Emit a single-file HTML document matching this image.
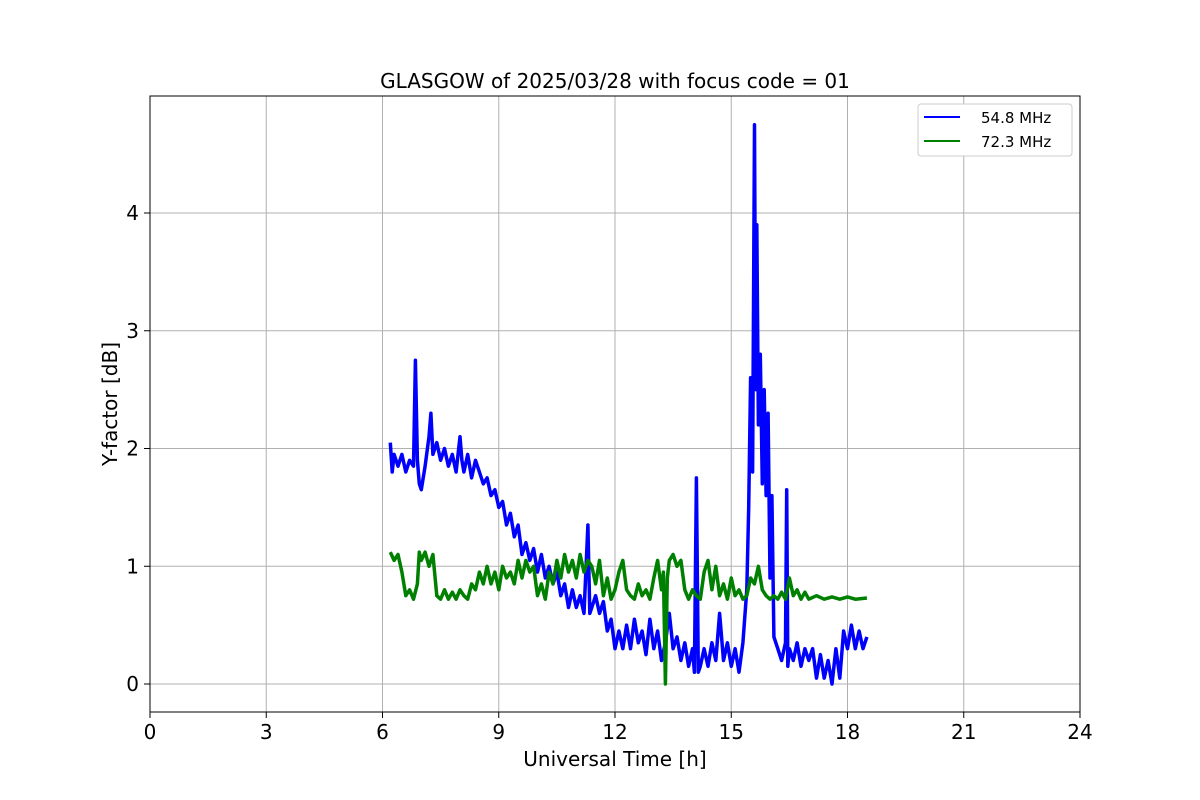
<!DOCTYPE html>
<html><head><meta charset="utf-8"><style>
body{margin:0;background:#fff}
svg{display:block;font-family:"DejaVu Sans","Liberation Sans",sans-serif}
</style></head><body>
<svg id="chart" width="1200" height="800" viewBox="0 0 1200 800" xmlns="http://www.w3.org/2000/svg">
<rect width="1200" height="800" fill="#fff"/>
<g id="grid"></g>
<g id="series"></g>
<rect x="150" y="96" width="930" height="616" fill="none" stroke="#000" stroke-width="1"/>
<g id="ticks"></g>
<text x="615" y="88" text-anchor="middle" font-size="20">GLASGOW of 2025/03/28 with focus code = 01</text>
<text x="615" y="766" text-anchor="middle" font-size="20">Universal Time [h]</text>
<text transform="translate(117,404) rotate(-90)" text-anchor="middle" font-size="20">Y-factor [dB]</text>
<g>
<rect x="918" y="104" width="154" height="52" rx="3" fill="#fff" stroke="#ccc"/>
<line x1="924" y1="117" x2="960" y2="117" stroke="#0000ff" stroke-width="2"/>
<text x="981" y="123" font-size="15">54.8 MHz</text>
<line x1="924" y1="141" x2="960" y2="141" stroke="#008000" stroke-width="2"/>
<text x="981" y="147" font-size="15">72.3 MHz</text>
</g>
</svg>
<script>
const xTicks=[0,3,6,9,12,15,18,21,24];
const yTicks=[0,1,2,3,4];
const blueHours=[6.2,6.25,6.3,6.4,6.5,6.6,6.7,6.8,6.85,6.9,6.95,7.0,7.1,7.2,7.25,7.3,7.4,7.5,7.6,7.7,7.8,7.9,8.0,8.05,8.1,8.2,8.3,8.4,8.5,8.6,8.7,8.8,8.9,9.0,9.1,9.2,9.3,9.4,9.5,9.6,9.7,9.8,9.9,10.0,10.1,10.2,10.3,10.4,10.5,10.6,10.7,10.8,10.9,11.0,11.1,11.2,11.3,11.35,11.4,11.5,11.6,11.7,11.8,11.9,12.0,12.1,12.2,12.3,12.4,12.5,12.6,12.7,12.8,12.9,13.0,13.1,13.2,13.3,13.4,13.5,13.6,13.7,13.8,13.9,14.0,14.05,14.1,14.15,14.2,14.3,14.4,14.5,14.6,14.7,14.8,14.9,15.0,15.1,15.2,15.3,15.4,15.45,15.5,15.55,15.6,15.63,15.66,15.7,15.75,15.8,15.85,15.9,15.95,16.0,16.05,16.1,16.2,16.3,16.4,16.43,16.46,16.5,16.6,16.7,16.8,16.9,17.0,17.1,17.2,17.3,17.4,17.5,17.6,17.7,17.8,17.9,18.0,18.1,18.2,18.3,18.4,18.5];
const blueValues=[2.05,1.8,1.95,1.85,1.95,1.8,1.9,1.85,2.75,1.9,1.7,1.65,1.85,2.1,2.3,1.95,2.05,1.9,2.0,1.85,1.95,1.8,2.1,1.9,1.8,1.95,1.75,1.9,1.8,1.7,1.75,1.6,1.65,1.5,1.55,1.35,1.45,1.25,1.35,1.1,1.2,1.05,1.15,0.95,1.1,0.9,1.0,0.85,0.95,0.75,0.85,0.65,0.8,0.65,0.75,0.6,1.35,0.6,0.65,0.75,0.6,0.7,0.45,0.55,0.3,0.45,0.3,0.5,0.3,0.55,0.35,0.45,0.25,0.55,0.3,0.45,0.2,0.35,0.6,0.3,0.4,0.2,0.35,0.15,0.3,0.1,1.75,0.1,0.15,0.3,0.15,0.35,0.2,0.6,0.2,0.35,0.15,0.3,0.1,0.35,0.8,1.5,2.6,1.8,4.75,2.5,3.9,2.2,2.8,1.7,2.5,1.6,2.3,0.9,1.6,0.4,0.3,0.2,0.35,1.65,0.15,0.3,0.2,0.35,0.15,0.3,0.2,0.3,0.05,0.25,0.05,0.2,0.0,0.3,0.05,0.45,0.3,0.5,0.3,0.45,0.3,0.4];
const greenHours=[6.2,6.3,6.4,6.5,6.6,6.7,6.8,6.9,6.95,7.0,7.1,7.2,7.3,7.4,7.5,7.6,7.7,7.8,7.9,8.0,8.1,8.2,8.3,8.4,8.5,8.6,8.7,8.8,8.9,9.0,9.1,9.2,9.3,9.4,9.5,9.6,9.7,9.8,9.9,10.0,10.1,10.2,10.3,10.4,10.5,10.6,10.7,10.8,10.9,11.0,11.1,11.2,11.3,11.4,11.5,11.6,11.7,11.8,11.9,12.0,12.1,12.2,12.3,12.4,12.5,12.6,12.7,12.8,12.9,13.0,13.1,13.2,13.25,13.3,13.35,13.4,13.5,13.6,13.7,13.8,13.9,14.0,14.1,14.2,14.3,14.4,14.5,14.6,14.7,14.8,14.9,15.0,15.1,15.2,15.3,15.4,15.5,15.6,15.7,15.8,15.9,16.0,16.1,16.2,16.3,16.4,16.5,16.6,16.7,16.8,16.9,17.0,17.2,17.4,17.6,17.8,18.0,18.2,18.5];
const greenValues=[1.12,1.05,1.1,0.95,0.75,0.8,0.72,0.85,1.12,1.05,1.12,1.0,1.1,0.75,0.72,0.8,0.72,0.78,0.72,0.8,0.75,0.72,0.85,0.8,0.95,0.85,1.0,0.85,0.95,0.8,1.0,0.9,0.95,0.85,1.05,0.9,1.05,0.95,1.0,0.75,0.85,0.72,0.95,0.85,1.05,0.9,1.1,0.95,1.05,0.9,1.1,0.95,1.05,1.0,0.85,1.05,0.75,0.9,0.72,0.8,0.95,1.05,0.8,0.75,0.72,0.85,0.75,0.8,0.72,0.9,1.05,0.8,0.95,0.0,0.9,1.05,1.1,1.0,1.05,0.8,0.72,0.8,0.75,0.72,0.95,1.05,0.8,1.0,0.75,0.85,0.72,0.9,0.75,0.8,0.72,0.75,0.9,0.85,1.0,0.8,0.75,0.72,0.75,0.72,0.78,0.72,0.9,0.75,0.8,0.72,0.78,0.72,0.75,0.72,0.74,0.72,0.74,0.72,0.73];
const X0=150,X1=1080,Y0=684,PXU=117.75;
function xs(h){return X0+(X1-X0)*h/24;}
function ys(v){return Y0-v*PXU;}
const NS="http://www.w3.org/2000/svg";
const grid=document.getElementById('grid'),ticks=document.getElementById('ticks'),series=document.getElementById('series');
function mk(tag,attrs,parent){const e=document.createElementNS(NS,tag);for(const k in attrs)e.setAttribute(k,attrs[k]);parent.appendChild(e);return e;}
xTicks.forEach(t=>{const x=xs(t);
 const g=mk('line',{x1:x,x2:x,y1:96,y2:712,stroke:'#b0b0b0','stroke-width':1},grid);
 
 
 const tk=mk('line',{x1:x,x2:x,y1:712,y2:718,stroke:'#000'},ticks);
 
 
 const tx=mk('text',{x:x,y:739,'text-anchor':'middle','font-size':20},ticks);tx.textContent=t;
 
 
});
yTicks.forEach(t=>{const y=ys(t);
 const g=mk('line',{x1:150,x2:1080,y1:y,y2:y,stroke:'#b0b0b0','stroke-width':1},grid);
 
 
 const tk=mk('line',{x1:144,x2:150,y1:y,y2:y,stroke:'#000'},ticks);
 
 
 const tx=mk('text',{x:139,y:y+7,'text-anchor':'end','font-size':20},ticks);tx.textContent=t;
 
 
});
function line(hs,vs,color,name){
 const d=hs.map((h,i)=>(i?'L':'M')+xs(h).toFixed(1)+','+ys(vs[i]).toFixed(1)).join('');
 const p=mk('path',{d:d,fill:'none',stroke:color,'stroke-width':3.5,'stroke-linejoin':'round'},series);
 
 
}
line(blueHours,blueValues,'#0000ff','series-54-8-mhz');
line(greenHours,greenValues,'#008000','series-72-3-mhz');
</script>
</body></html>
